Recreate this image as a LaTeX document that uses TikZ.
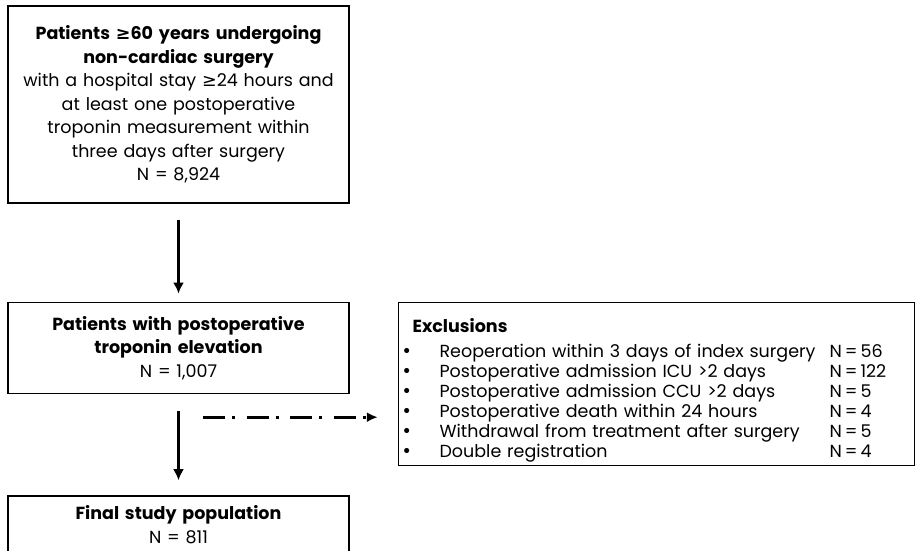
\documentclass[tikz,border=0pt]{standalone}
\usepackage{fontspec}
\setmainfont{Poppins}
\newfontfamily\symfont{DejaVu Sans}
\newcommand{\gesym}{{\symfont ≥}}
\newcommand{\bulsym}{\hspace{-3pt}{\symfont •}}
\newcommand{\ncount}[1]{N\hspace{3pt}=\hspace{3pt}#1}
\usetikzlibrary{arrows.meta,positioning}

\begin{document}
\begin{tikzpicture}[
  box/.style={draw, line width=1.6pt, align=center, text width=325pt, inner sep=8pt, font=\fontsize{17.5}{23.5}\selectfont},
  exclbox/.style={draw, line width=1.6pt, align=left, text width=504pt, inner xsep=6pt, inner ysep=2pt, font=\fontsize{17.5}{20}\selectfont},
  flow/.style={-{Latex[length=11pt,width=11pt]}, line width=2.4pt},
  side/.style={-{Latex[length=11pt,width=10pt]}, line width=3pt, dash pattern=on 22pt off 7pt on 3pt off 11.5pt},
  >=Latex, x=1pt, y=1pt
]
\useasboundingbox (0,0) rectangle (916,-551);
\clip (0,0) rectangle (916,-551);
\node[box, minimum height=197pt, anchor=north] (cohort) at (178.5,-5) {\textbf{Patients \gesym60 years undergoing}\\\textbf{non-cardiac surgery}\\with a hospital stay \gesym24 hours and\\at least one postoperative\\troponin measurement within\\three days after surgery\\N = 8,924};
\node[box, minimum height=91pt, below=98pt of cohort] (elev) {\textbf{Patients with postoperative}\\\textbf{troponin elevation}\\N = 1,007};
\node[box, minimum height=57pt, below=101pt of elev, anchor=north] (final) {\textbf{Final study population}\\N = 811};
\node[exclbox, right=48pt of elev.north east, anchor=north west] (excl) {%
\begin{tabular}{@{}p{35pt}@{}p{390pt}@{}l@{}}
\multicolumn{3}{@{}l@{}}{\rule{0pt}{28pt}\hspace{8pt}\textbf{Exclusions}}\\[5pt]
\bulsym & Reoperation within 3 days of index surgery & \ncount{56}\\
\bulsym & Postoperative admission ICU >2 days & \ncount{122}\\
\bulsym & Postoperative admission CCU >2 days & \ncount{5}\\
\bulsym & Postoperative death within 24 hours & \ncount{4}\\
\bulsym & Withdrawal from treatment after surgery & \ncount{5}\\
\bulsym & Double registration & \ncount{4}
\end{tabular}};
\draw[flow, shorten <=16pt, shorten >=8pt] (cohort) -- (elev);
\draw[flow, shorten <=17pt, shorten >=15pt] (elev) -- (final);
\coordinate (split) at ([xshift=24.5pt,yshift=-23pt]elev.south);
\draw[side, shorten >=20pt] (split) -- (split -| excl.west);
\end{tikzpicture}
\end{document}
